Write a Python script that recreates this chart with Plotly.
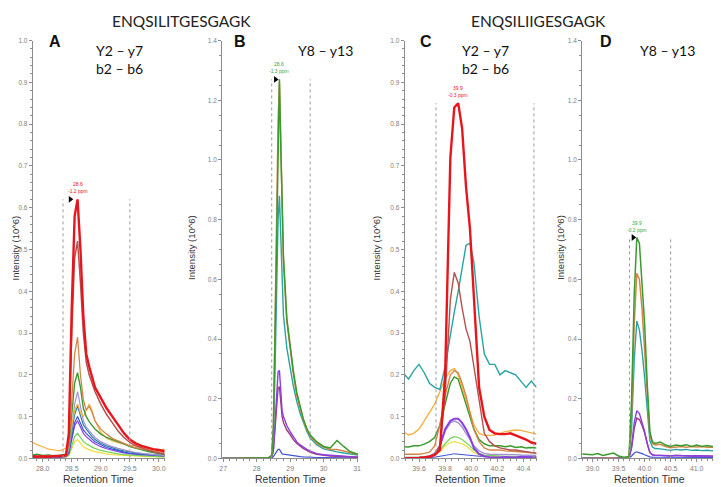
import plotly.graph_objects as go
from plotly.subplots import make_subplots

# ---- panel A : ENQSILITGESGAGK, Y2-y7 / b2-b6
tA = [27.83, 27.9, 28.0, 28.1, 28.2, 28.3, 28.4, 28.45, 28.5, 28.55, 28.6, 28.65, 28.7, 28.75, 28.8,
      28.85, 28.9, 29.0, 29.1, 29.2, 29.3, 29.4, 29.5, 29.6, 29.7, 29.8, 29.9, 30.0, 30.1]
A_red = [0.005, 0.004, 0.005, 0.004, 0.006, 0.005, 0.008, 0.06, 0.36, 0.58, 0.62, 0.5, 0.34, 0.25, 0.22,
         0.195, 0.17, 0.145, 0.12, 0.1, 0.08, 0.06, 0.045, 0.036, 0.03, 0.026, 0.022, 0.02, 0.017]
A_rose = [0.006, 0.005, 0.004, 0.005, 0.004, 0.006, 0.007, 0.05, 0.3, 0.48, 0.52, 0.42, 0.3, 0.23, 0.2,
          0.18, 0.16, 0.13, 0.105, 0.085, 0.065, 0.05, 0.038, 0.03, 0.025, 0.02, 0.016, 0.013, 0.01]
A_brown = [0.004, 0.005, 0.004, 0.006, 0.005, 0.005, 0.008, 0.03, 0.14, 0.25, 0.29, 0.2, 0.14, 0.115, 0.125,
           0.11, 0.09, 0.07, 0.058, 0.048, 0.042, 0.036, 0.03, 0.026, 0.022, 0.02, 0.018, 0.016, 0.014]
A_orange = [0.038, 0.033, 0.028, 0.022, 0.02, 0.018, 0.025, 0.045, 0.08, 0.115, 0.13, 0.11, 0.1, 0.115, 0.13,
            0.115, 0.09, 0.062, 0.048, 0.042, 0.038, 0.034, 0.03, 0.032, 0.027, 0.024, 0.02, 0.02, 0.022]
A_green = [0.008, 0.01, 0.007, 0.008, 0.006, 0.008, 0.01, 0.03, 0.1, 0.18, 0.205, 0.17, 0.12, 0.1, 0.088,
           0.08, 0.07, 0.058, 0.05, 0.045, 0.04, 0.035, 0.028, 0.024, 0.02, 0.017, 0.014, 0.012, 0.01]
A_lav = [0.004, 0.005, 0.004, 0.004, 0.005, 0.004, 0.006, 0.02, 0.07, 0.13, 0.16, 0.12, 0.09, 0.075, 0.065,
         0.058, 0.05, 0.04, 0.034, 0.028, 0.024, 0.02, 0.017, 0.014, 0.012, 0.01, 0.009, 0.008, 0.007]
A_teal = [0.005, 0.004, 0.005, 0.005, 0.004, 0.005, 0.006, 0.018, 0.06, 0.105, 0.125, 0.1, 0.08, 0.07, 0.06,
          0.052, 0.045, 0.036, 0.03, 0.025, 0.021, 0.018, 0.015, 0.013, 0.011, 0.01, 0.009, 0.008, 0.007]
A_blue = [0.003, 0.004, 0.003, 0.003, 0.004, 0.003, 0.005, 0.014, 0.05, 0.085, 0.1, 0.085, 0.068, 0.06, 0.052,
          0.046, 0.04, 0.032, 0.026, 0.022, 0.018, 0.015, 0.012, 0.011, 0.01, 0.009, 0.008, 0.007, 0.006]
A_purple = [0.002, 0.003, 0.002, 0.003, 0.002, 0.003, 0.004, 0.012, 0.045, 0.078, 0.09, 0.075, 0.06, 0.052, 0.045,
            0.04, 0.035, 0.028, 0.023, 0.019, 0.016, 0.013, 0.011, 0.01, 0.009, 0.008, 0.007, 0.006, 0.006]
A_lgreen = [0.003, 0.002, 0.003, 0.003, 0.002, 0.003, 0.004, 0.008, 0.03, 0.052, 0.06, 0.05, 0.04, 0.035, 0.03,
            0.027, 0.024, 0.019, 0.016, 0.013, 0.011, 0.009, 0.008, 0.007, 0.006, 0.005, 0.005, 0.004, 0.004]
A_yellow = [0.002, 0.002, 0.002, 0.002, 0.002, 0.002, 0.003, 0.006, 0.022, 0.04, 0.045, 0.035, 0.028, 0.024, 0.02,
            0.018, 0.016, 0.013, 0.011, 0.009, 0.008, 0.007, 0.006, 0.005, 0.005, 0.004, 0.004, 0.003, 0.003]

# ---- panel B : ENQSILITGESGAGK, Y8-y13
tB = [26.97, 27.2, 27.5, 27.8, 28.0, 28.2, 28.35, 28.45, 28.5, 28.55, 28.6, 28.64, 28.68, 28.72, 28.76, 28.8,
      28.9, 29.0, 29.1, 29.2, 29.3, 29.4, 29.5, 29.6, 29.8, 30.0, 30.2, 30.4, 30.6, 30.8, 31.03]
B_green = [0.0, 0.001, 0.0, 0.001, 0.0, 0.001, 0.002, 0.01, 0.1, 0.45, 0.85, 1.12, 1.27, 1.05, 0.8, 0.68,
           0.47, 0.37, 0.29, 0.22, 0.17, 0.13, 0.1, 0.078, 0.055, 0.04, 0.035, 0.06, 0.04, 0.022, 0.014]
B_orange = [0.0, 0.0, 0.001, 0.0, 0.001, 0.0, 0.002, 0.01, 0.1, 0.45, 0.86, 1.13, 1.26, 1.03, 0.79, 0.66,
            0.46, 0.36, 0.28, 0.21, 0.165, 0.125, 0.095, 0.075, 0.05, 0.038, 0.03, 0.03, 0.025, 0.02, 0.013]
B_teal = [0.0, 0.0, 0.0, 0.0, 0.0, 0.0, 0.001, 0.008, 0.07, 0.3, 0.6, 0.8, 0.88, 0.72, 0.56, 0.48,
          0.37, 0.3, 0.24, 0.19, 0.15, 0.12, 0.09, 0.068, 0.045, 0.032, 0.026, 0.022, 0.018, 0.014, 0.011]
B_violet = [0.0, 0.0, 0.0, 0.0, 0.0, 0.0, 0.001, 0.004, 0.03, 0.12, 0.24, 0.29, 0.295, 0.22, 0.16, 0.14,
            0.11, 0.09, 0.07, 0.055, 0.045, 0.036, 0.03, 0.024, 0.016, 0.012, 0.01, 0.008, 0.007, 0.006, 0.005]
B_magenta = [0.0, 0.0, 0.0, 0.0, 0.0, 0.0, 0.001, 0.003, 0.025, 0.1, 0.19, 0.235, 0.24, 0.18, 0.14, 0.12,
             0.095, 0.08, 0.062, 0.05, 0.04, 0.033, 0.027, 0.02, 0.014, 0.01, 0.008, 0.007, 0.006, 0.005, 0.004]
B_blue = [0.001, 0.0, 0.001, 0.0, 0.001, 0.0, 0.001, 0.002, 0.006, 0.015, 0.025, 0.03, 0.03, 0.022, 0.015, 0.014,
          0.012, 0.01, 0.008, 0.007, 0.006, 0.005, 0.004, 0.004, 0.003, 0.003, 0.002, 0.002, 0.002, 0.002, 0.002]

# ---- panel C : ENQSILIIGESGAGK, Y2-y7 / b2-b6
tC = [39.49, 39.52, 39.56, 39.6, 39.64, 39.68, 39.72, 39.76, 39.8, 39.84, 39.87, 39.9, 39.93, 39.96,
      39.99, 40.02, 40.06, 40.1, 40.14, 40.18, 40.22, 40.26, 40.3, 40.34, 40.38, 40.42, 40.46, 40.5]
C_teal = [0.2, 0.19, 0.21, 0.225, 0.205, 0.18, 0.17, 0.165, 0.22, 0.3, 0.35, 0.4, 0.46, 0.51,
          0.515, 0.47, 0.34, 0.25, 0.225, 0.225, 0.2, 0.21, 0.205, 0.2, 0.185, 0.17, 0.185, 0.17]
C_red = [0.0, 0.0, 0.0, 0.001, 0.002, 0.004, 0.008, 0.02, 0.2, 0.72, 0.84, 0.85, 0.79, 0.65,
         0.55, 0.38, 0.17, 0.1, 0.068, 0.06, 0.058, 0.058, 0.06, 0.055, 0.05, 0.045, 0.038, 0.035]
C_rose = [0.0, 0.0, 0.0, 0.001, 0.003, 0.005, 0.01, 0.03, 0.15, 0.38, 0.445, 0.42, 0.36, 0.31,
          0.28, 0.22, 0.13, 0.06, 0.04, 0.03, 0.025, 0.022, 0.02, 0.02, 0.018, 0.015, 0.013, 0.012]
C_brown = [0.01, 0.01, 0.01, 0.01, 0.012, 0.015, 0.03, 0.08, 0.15, 0.2, 0.21, 0.205, 0.18, 0.15,
           0.11, 0.07, 0.04, 0.025, 0.02, 0.02, 0.02, 0.018, 0.017, 0.016, 0.015, 0.015, 0.014, 0.013]
C_orange = [0.062, 0.056, 0.06, 0.07, 0.09, 0.11, 0.13, 0.16, 0.19, 0.21, 0.215, 0.2, 0.17, 0.14,
            0.11, 0.08, 0.06, 0.055, 0.055, 0.056, 0.06, 0.064, 0.066, 0.068, 0.067, 0.064, 0.06, 0.058]
C_green = [0.028, 0.027, 0.03, 0.03, 0.034, 0.04, 0.05, 0.08, 0.13, 0.18, 0.195, 0.19, 0.16, 0.13,
           0.1, 0.07, 0.045, 0.035, 0.03, 0.03, 0.03, 0.028, 0.03, 0.026, 0.028, 0.025, 0.026, 0.025]
C_violet = [0.0, 0.0, 0.0, 0.001, 0.002, 0.004, 0.01, 0.03, 0.07, 0.09, 0.095, 0.095, 0.085, 0.07,
            0.05, 0.025, 0.01, 0.005, 0.003, 0.002, 0.002, 0.003, 0.002, 0.002, 0.004, 0.003, 0.002, 0.002]
C_lav = [0.002, 0.002, 0.003, 0.003, 0.004, 0.006, 0.012, 0.03, 0.065, 0.085, 0.09, 0.085, 0.075, 0.06,
         0.045, 0.03, 0.018, 0.012, 0.01, 0.01, 0.01, 0.01, 0.009, 0.009, 0.008, 0.008, 0.007, 0.007]
C_lgreen = [0.002, 0.002, 0.002, 0.003, 0.004, 0.005, 0.01, 0.02, 0.035, 0.048, 0.052, 0.05, 0.045, 0.038,
            0.03, 0.02, 0.012, 0.008, 0.007, 0.006, 0.006, 0.005, 0.005, 0.005, 0.004, 0.004, 0.004, 0.004]
C_yellow = [0.001, 0.001, 0.002, 0.002, 0.003, 0.004, 0.008, 0.016, 0.03, 0.038, 0.04, 0.038, 0.035, 0.03,
            0.022, 0.014, 0.008, 0.005, 0.004, 0.004, 0.004, 0.003, 0.003, 0.003, 0.003, 0.003, 0.003, 0.003]
C_blue = [0.001, 0.001, 0.001, 0.001, 0.001, 0.002, 0.003, 0.005, 0.008, 0.01, 0.011, 0.01, 0.009, 0.008,
          0.007, 0.006, 0.005, 0.004, 0.004, 0.004, 0.003, 0.003, 0.003, 0.003, 0.003, 0.003, 0.003, 0.003]

# ---- panel D : ENQSILIIGESGAGK, Y8-y13
tD = [38.8, 39.0, 39.1, 39.2, 39.3, 39.4, 39.5, 39.6, 39.7, 39.75, 39.8, 39.85, 39.9, 39.95, 40.0, 40.05,
      40.1, 40.15, 40.2, 40.3, 40.4, 40.5, 40.6, 40.7, 40.8, 40.9, 41.0, 41.1, 41.2, 41.3, 41.39]
D_green = [0.015, 0.012, 0.016, 0.01, 0.014, 0.018, 0.008, 0.004, 0.006, 0.2, 0.55, 0.74, 0.72, 0.6, 0.45, 0.25,
           0.09, 0.055, 0.05, 0.055, 0.045, 0.04, 0.045, 0.042, 0.046, 0.04, 0.045, 0.04, 0.043, 0.04, 0.04]
D_orange = [0.0, 0.001, 0.0, 0.001, 0.0, 0.001, 0.0, 0.001, 0.003, 0.15, 0.45, 0.62, 0.6, 0.5, 0.37, 0.21,
            0.08, 0.05, 0.045, 0.047, 0.04, 0.036, 0.038, 0.04, 0.037, 0.04, 0.038, 0.04, 0.037, 0.038, 0.036]
D_teal = [0.0, 0.0, 0.0, 0.0, 0.0, 0.0, 0.0, 0.001, 0.003, 0.1, 0.33, 0.46, 0.43, 0.36, 0.27, 0.15,
          0.06, 0.038, 0.033, 0.032, 0.03, 0.027, 0.03, 0.028, 0.03, 0.027, 0.028, 0.026, 0.027, 0.025, 0.024]
D_violet = [0.0, 0.0, 0.0, 0.0, 0.0, 0.0, 0.0, 0.0, 0.002, 0.04, 0.12, 0.16, 0.15, 0.12, 0.09, 0.05,
            0.02, 0.012, 0.01, 0.01, 0.008, 0.008, 0.01, 0.009, 0.01, 0.008, 0.009, 0.008, 0.008, 0.007, 0.007]
D_magenta = [0.0, 0.0, 0.0, 0.0, 0.0, 0.0, 0.0, 0.0, 0.002, 0.035, 0.1, 0.135, 0.13, 0.11, 0.085, 0.05,
             0.02, 0.012, 0.01, 0.01, 0.009, 0.009, 0.01, 0.009, 0.009, 0.008, 0.009, 0.008, 0.008, 0.008, 0.007]
D_blue = [0.002, 0.001, 0.002, 0.001, 0.002, 0.001, 0.001, 0.001, 0.002, 0.008, 0.018, 0.022, 0.02, 0.016, 0.012, 0.008,
          0.005, 0.004, 0.004, 0.003, 0.003, 0.003, 0.003, 0.003, 0.003, 0.003, 0.003, 0.003, 0.003, 0.003, 0.003]

# integration boundaries and peak labels
bounds = [[28.35, 29.5], [28.45, 29.6], [39.73, 40.48], [39.71, 40.5]]
peak_labels = ["28.6<br>-1.2 ppm", "28.6<br>-1.3 ppm", "39.9<br>-0.3 ppm", "39.9<br>-0.2 ppm"]
peptides = ["ENQSILITGESGAGK", "ENQSILIIGESGAGK"]
letters = ["A", "B", "C", "D"]
ion_text = ["Y2 \u2013 y7<br>b2 \u2013 b6", "Y8 \u2013 y13", "Y2 \u2013 y7<br>b2 \u2013 b6", "Y8 \u2013 y13"]

RED = "#e8151c"; ROSE = "#b4504e"; BROWN = "#d2874a"; ORANGE = "#f6b040"; GREEN = "#3a9a2e"
LAV = "#a493d2"; TEAL = "#2aa3a3"; TEAL2 = "#2f7fa0"; BLUE = "#3f52d8"; PURPLE = "#8a3fe0"
LGREEN = "#72d35a"; YELLOW = "#f0df3a"; MAGENTA = "#a23a80"

panels = [
    (tA, [(A_yellow, YELLOW, 1.2), (A_lgreen, LGREEN, 1.2), (A_purple, PURPLE, 1.2), (A_blue, BLUE, 1.2),
          (A_teal, TEAL2, 1.2), (A_lav, LAV, 1.2), (A_orange, ORANGE, 1.2), (A_green, GREEN, 1.4),
          (A_brown, BROWN, 1.3), (A_rose, ROSE, 1.5), (A_red, RED, 2.4)], RED),
    (tB, [(B_blue, BLUE, 1.2), (B_magenta, MAGENTA, 1.4), (B_violet, PURPLE, 1.4), (B_teal, TEAL, 1.4),
          (B_orange, BROWN, 1.5), (B_green, GREEN, 1.5)], "#3aa53a"),
    (tC, [(C_blue, BLUE, 1.0), (C_yellow, YELLOW, 1.2), (C_lgreen, LGREEN, 1.2), (C_lav, LAV, 1.4),
          (C_violet, PURPLE, 2.0), (C_green, GREEN, 1.5), (C_orange, ORANGE, 1.4), (C_brown, BROWN, 1.4),
          (C_teal, TEAL, 1.4), (C_rose, ROSE, 1.4), (C_red, RED, 2.4)], RED),
    (tD, [(D_blue, BLUE, 1.2), (D_magenta, MAGENTA, 1.4), (D_violet, PURPLE, 1.4), (D_teal, TEAL, 1.4),
          (D_orange, BROWN, 1.5), (D_green, GREEN, 1.5)], "#3aa53a"),
]

# page has an 8px body margin, so the figure is drawn 8px smaller and
# positions below are given in page pixels and converted
W, H, OFF = 713, 479, 8
def px(x):
    return (x - OFF) / W
def py(y):
    return (487 - y) / H

xdom = [[px(30), px(163)], [px(221), px(358)], [px(405), px(538)], [px(584), px(720)]]
ydom = [py(461), py(37)]
xrng = [[27.83, 30.1], [26.97, 31.03], [39.49, 40.5], [38.8, 41.39]]
xdt = [0.5, 1, 0.2, 0.5]
xminor = [0.1, 0.2, 0.05, 0.1]
ytop = [1.0, 1.4, 1.0, 1.4]
ydt = [0.1, 0.2, 0.1, 0.2]
yminor = [0.02, 0.05, 0.02, 0.05]

fig = make_subplots(rows=1, cols=4)

for i, (t, traces, lblcol) in enumerate(panels):
    for ys, col, w in traces:
        fig.add_trace(go.Scatter(x=t, y=ys, mode='lines', line=dict(color=col, width=w),
                                 showlegend=False, hoverinfo='skip'), row=1, col=i+1)
    # peak of the panel
    top = max(max(ys) for ys, c, w in traces)
    main = max(traces, key=lambda tr: max(tr[0]))[0]
    tpk = t[main.index(max(main))]
    xr = 'x' if i == 0 else 'x%d' % (i+1)
    yr = 'y' if i == 0 else 'y%d' % (i+1)
    for b in bounds[i]:
        fig.add_shape(type='line', xref=xr, yref=yr, x0=b, x1=b, y0=0, y1=top,
                      line=dict(color='#9a9a9a', width=1, dash='dot'))
    if i != 2:
        fig.add_trace(go.Scatter(x=[(bounds[i][0] + tpk) / 2], y=[top], mode='markers',
                                 marker=dict(symbol='triangle-right', size=6, color='black'),
                                 showlegend=False, hoverinfo='skip'), row=1, col=i+1)
    fig.add_annotation(x=tpk, y=top, xref=xr, yref=yr, text=peak_labels[i], showarrow=False,
                       xanchor='center', yanchor='bottom', yshift=3,
                       font=dict(size=5, color=lblcol, family='Arial'))

    ax = dict(domain=xdom[i], range=xrng[i], showline=True, linecolor='#8c8c8c', linewidth=1,
              ticks='outside', ticklen=3, tickcolor='#8c8c8c', dtick=xdt[i], tick0=0,
              tickformat='.0f' if i == 1 else '.1f', showgrid=False, zeroline=False,
              tickfont=dict(size=7, color='#808080', family='Arial'),
              minor=dict(dtick=xminor[i], ticks='outside', ticklen=2, tickcolor='#8c8c8c'))
    ay = dict(domain=ydom, range=[0, ytop[i]], showline=True, linecolor='#8c8c8c', linewidth=1,
              ticks='outside', ticklen=3, tickcolor='#8c8c8c', dtick=ydt[i], tick0=0,
              tickformat='.1f', showgrid=False, zeroline=False,
              tickfont=dict(size=6.5, color='#808080', family='Arial'),
              minor=dict(dtick=yminor[i], ticks='outside', ticklen=2, tickcolor='#8c8c8c'))
    fig.update_xaxes(ax, row=1, col=i+1)
    fig.update_yaxes(ay, row=1, col=i+1)

    xc = (xdom[i][0] + xdom[i][1]) / 2
    fig.add_annotation(x=xc, y=py(482), xref='paper', yref='paper', text='Retention Time', showarrow=False,
                       xanchor='center', yanchor='middle',
                       font=dict(size=10.5, color='#333333', family='Arial'))

# y titles, letters, ion labels
ytitle_x = [13, 190, 377, 562]
letter_x = [52, 239, 427, 608]
ion_x = [117, 325, 487, 670]
for i in range(4):
    fig.add_annotation(x=px(ytitle_x[i]), y=py(247), xref='paper', yref='paper',
                       text='Intensity (10^6)', textangle=-90, showarrow=False,
                       xanchor='center', yanchor='middle',
                       font=dict(size=9.5, color='#333333', family='Arial'))
    fig.add_annotation(x=px(letter_x[i]), y=py(38), xref='paper', yref='paper',
                       text='<b>%s</b>' % letters[i], showarrow=False,
                       xanchor='center', yanchor='middle', borderpad=0, borderwidth=0,
                       font=dict(size=16, color='#111111', family='Arial'))
    fig.add_annotation(x=px(ion_x[i]), y=py(36), xref='paper', yref='paper',
                       text=ion_text[i], showarrow=False, xanchor='center', yanchor='top',
                       font=dict(size=14, color='#111111', family='Lato'))

# peptide titles sit against the top edge of the figure
for k, xc in enumerate([180, 540]):
    fig.add_annotation(x=px(xc), y=1.0, xref='paper', yref='paper', text=peptides[k],
                       showarrow=False, xanchor='center', yanchor='top', borderpad=0, borderwidth=0,
                       font=dict(size=15.5, color='#222222', family='Lato'))

fig.update_layout(width=W, height=H, margin=dict(l=0, r=0, t=0, b=0),
                  plot_bgcolor='white', paper_bgcolor='white')
fig.write_html("out.html")
